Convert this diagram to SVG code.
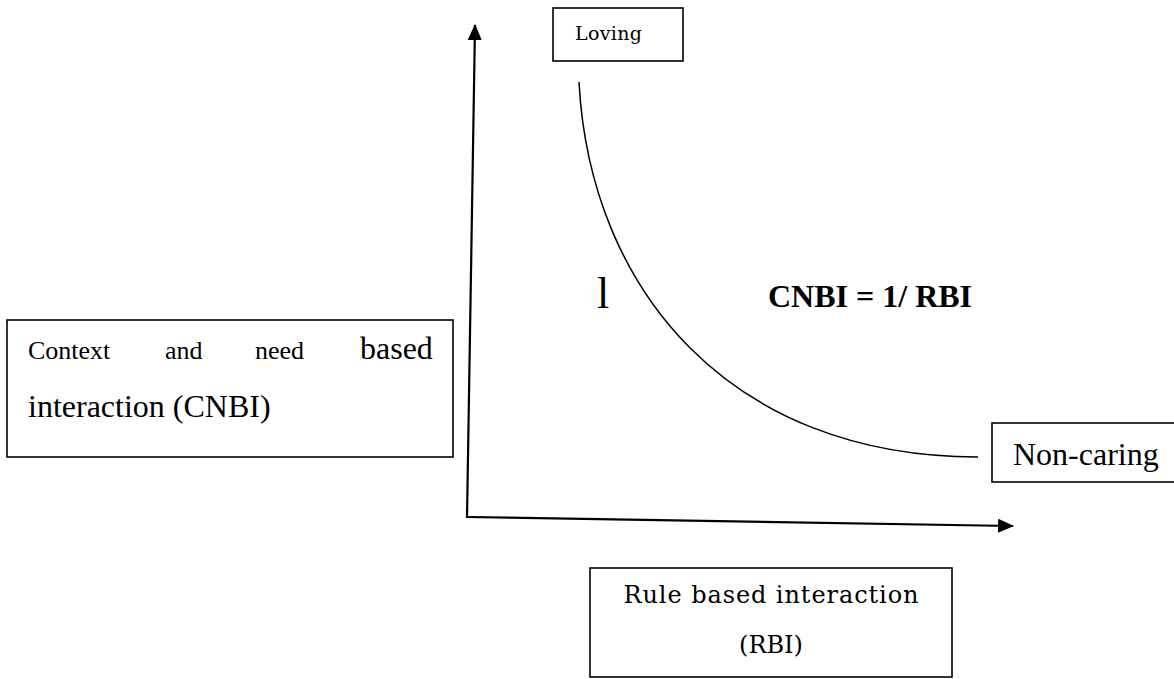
<svg xmlns="http://www.w3.org/2000/svg" width="1174" height="679" viewBox="0 0 1174 679">
<defs>
<marker id="arr" viewBox="0 0 16 14" refX="15" refY="7" markerWidth="16" markerHeight="14" markerUnits="userSpaceOnUse" orient="auto">
<path d="M0,0 L16,7 L0,14 Z" fill="#000"/>
</marker>
<style>
.box{fill:#fff;stroke:#000;stroke-width:1.6}
.axis{fill:none;stroke:#000;stroke-width:2.2}
.curve{fill:none;stroke:#000;stroke-width:1.5}
.tnr{font-family:"Liberation Serif","Times New Roman",serif;fill:#000}
.bk{font-family:"DejaVu Serif","Liberation Serif",serif;fill:#000}
</style>
</defs>
<rect width="1174" height="679" fill="#fff"/>
<g id="connectors">
<path class="axis" d="M467,518 L475,25" marker-end="url(#arr)"/>
<path class="axis" d="M466,517 L1013,526" marker-end="url(#arr)"/>
<path id="curve" class="curve" d="M579,82 C590,290 730,457 978,457"/>
</g>
<g id="loving">
<rect class="box" x="553" y="8" width="130" height="53"/>
<text class="bk" x="575" y="40" font-size="19" textLength="67">Loving</text>
</g>
<g id="cnbi">
<rect class="box" x="7" y="320" width="446" height="137"/>
<text class="tnr" y="359" font-size="26"><tspan x="28">Context</tspan><tspan x="165">and</tspan><tspan x="255">need</tspan><tspan x="360" font-size="32">based</tspan></text>
<text class="tnr" x="28" y="417" font-size="32">interaction (CNBI)</text>
</g>
<g id="noncaring">
<rect class="box" x="992" y="423" width="190" height="59"/>
<text class="tnr" x="1013" y="465" font-size="32">Non-caring</text>
</g>
<g id="rbi">
<rect class="box" x="590" y="568" width="362" height="109"/>
<text class="bk" x="771" y="603" font-size="24" text-anchor="middle" textLength="295">Rule based interaction</text>
<text class="bk" x="771" y="653" font-size="24" text-anchor="middle">(RBI)</text>
</g>
<g id="labels">
<text class="tnr" x="597" y="308" font-size="44">l</text>
<text class="tnr" x="768" y="307" font-size="32" font-weight="bold">CNBI = 1/ RBI</text>
</g>
</svg>
